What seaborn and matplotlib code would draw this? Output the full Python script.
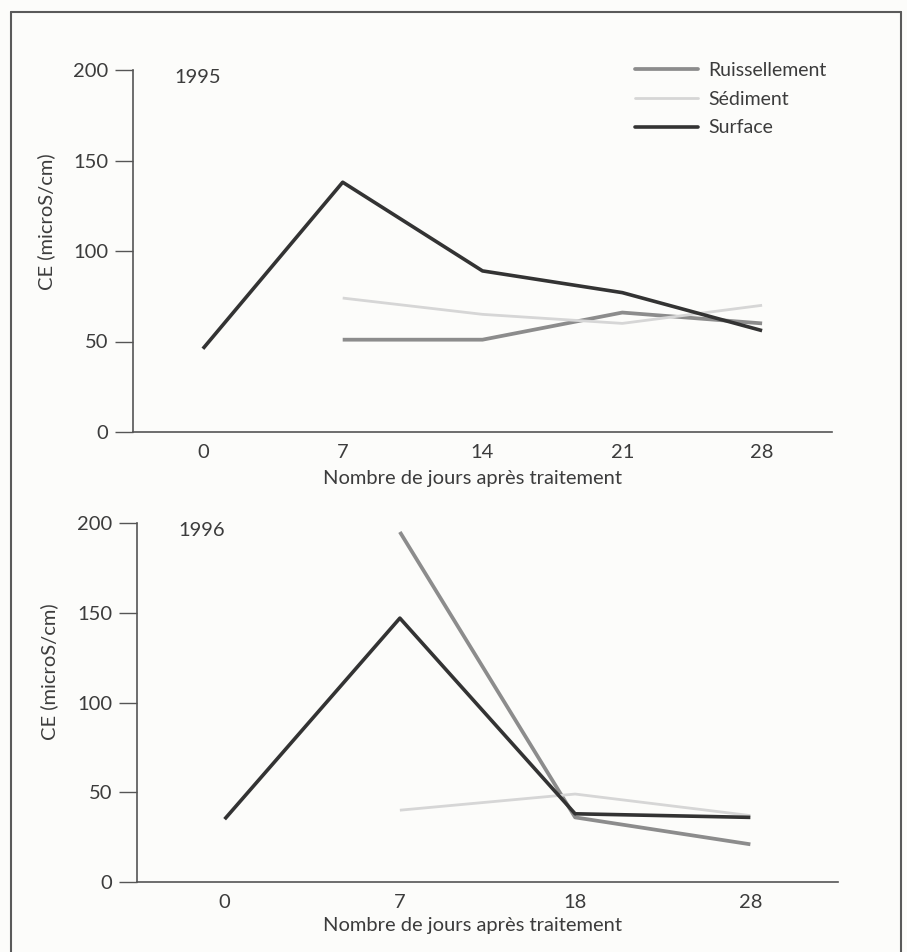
import matplotlib
matplotlib.use("Agg")
import matplotlib.pyplot as plt
import numpy as np
import pandas as pd
import seaborn as sns
from matplotlib.lines import Line2D

sns.set_style("white")
plt.rcParams["font.family"] = ["Lato", "DejaVu Sans"]

# Data (CE in microS/cm)
series = ["Ruissellement", "Sédiment", "Surface"]

days_1995 = ["0", "7", "14", "21", "28"]
ruiss_1995 = [np.nan, 51, 51, 66, 60]
sedim_1995 = [np.nan, 74, 65, 60, 70]
surf_1995 = [46, 138, 89, 77, 56]

days_1996 = ["0", "7", "18", "28"]
ruiss_1996 = [np.nan, 195, 36, 21]
sedim_1996 = [np.nan, 40, 49, 37]
surf_1996 = [35, 147, 38, 36]

colors = {"Ruissellement": "#8c8c8c", "Sédiment": "#d6d6d6", "Surface": "#333333"}
widths = {"Ruissellement": 2.7, "Sédiment": 2.0, "Surface": 2.6}
text_col = "#3c3c3c"
fs = 14.5


def to_long(days, ruiss, sedim, surf):
    frames = []
    for name, vals in zip(series, [ruiss, sedim, surf]):
        frames.append(pd.DataFrame({"jour": days, "CE": vals, "serie": name}))
    return pd.concat(frames, ignore_index=True)


df95 = to_long(days_1995, ruiss_1995, sedim_1995, surf_1995)
df96 = to_long(days_1996, ruiss_1996, sedim_1996, surf_1996)

fig = plt.figure(figsize=(9.07, 9.52), dpi=100, facecolor="#fcfcfa")
ax1 = fig.add_axes([133 / 907, 1 - 432 / 952, 699 / 907, 362 / 952])
ax2 = fig.add_axes([137 / 907, 1 - 882 / 952, 701 / 907, 359 / 952])


def draw(ax, df, days, year, ylab_x, ylab_y, xlab_y, xlab_x):
    ax.set_facecolor("none")
    for name in series:
        sub = df[df["serie"] == name].dropna()
        sub = sub.assign(pos=[days.index(d) for d in sub["jour"]])
        sns.lineplot(data=sub, x="pos", y="CE", ax=ax, color=colors[name],
                     linewidth=widths[name], label=name, legend=False,
                     solid_capstyle="butt")
    ax.set_xlim(-0.5, len(days) - 0.5)
    ax.set_ylim(0, 200)
    ax.set_xticks(range(len(days)))
    ax.set_xticklabels(days)
    ax.set_xticks(np.arange(len(days) + 1) - 0.5, minor=True)
    ax.set_yticks([0, 50, 100, 150, 200])
    ax.tick_params(axis="x", which="major", length=0, pad=9,
                   labelsize=fs, labelcolor=text_col)
    ax.tick_params(axis="x", which="minor", length=4, width=1,
                   color="#555555", direction="out")
    ax.tick_params(axis="y", length=13, width=1, color="#555555",
                   direction="out", pad=5, labelsize=fs, labelcolor=text_col,
                   left=True)
    for s in ["top", "right"]:
        ax.spines[s].set_visible(False)
    for s in ["left", "bottom"]:
        ax.spines[s].set_color("#555555")
        ax.spines[s].set_linewidth(1.2)
    ax.set_xlabel("Nombre de jours après traitement", fontsize=fs,
                  color=text_col)
    ax.set_ylabel("CE (microS/cm)", fontsize=fs, color=text_col)
    ax.xaxis.set_label_coords(xlab_x, xlab_y)
    ax.yaxis.set_label_coords(ylab_x, ylab_y)
    ax.text(0.092, 0.98, year, transform=ax.transAxes, fontsize=fs,
            color=text_col, ha="center", va="center")


draw(ax1, df95, days_1995, "1995", -0.112, 0.58, -0.105, 0.485)
draw(ax2, df96, days_1996, "1996", -0.113, 0.585, -0.097, 0.478)

handles = [Line2D([], [], color=colors[n], linewidth=widths[n]) for n in series]
leg = fig.legend(handles, series, loc="upper left",
                 bbox_to_anchor=(635 / 907, 1 - 62 / 952),
                 bbox_transform=fig.transFigure, frameon=False,
                 fontsize=14, handlelength=3.25, handletextpad=0.5,
                 labelspacing=0.6, borderpad=0, borderaxespad=0)
for t in leg.get_texts():
    t.set_color(text_col)

# scanned frame around the figure
frame_col = "#5a5a5a"
fig.add_artist(Line2D([11 / 907, 901 / 907], [1 - 12 / 952, 1 - 12 / 952],
                      transform=fig.transFigure, color=frame_col, lw=1.5))
fig.add_artist(Line2D([11 / 907, 11 / 907], [0, 1 - 12 / 952],
                      transform=fig.transFigure, color=frame_col, lw=1.5))
fig.add_artist(Line2D([901 / 907, 901 / 907], [0, 1 - 12 / 952],
                      transform=fig.transFigure, color=frame_col, lw=1.5))

fig.savefig("out.png", dpi=100, facecolor=fig.get_facecolor())
